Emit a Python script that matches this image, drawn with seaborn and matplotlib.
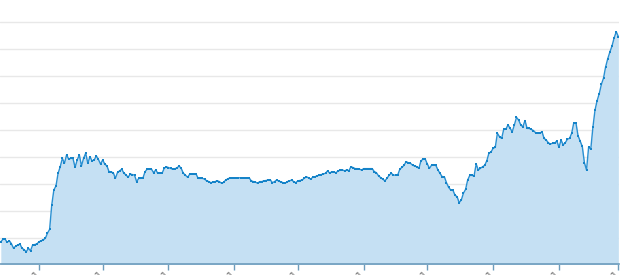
import matplotlib
matplotlib.use("Agg")
import matplotlib.pyplot as plt
import seaborn as sns
import pandas as pd
import numpy as np

start_date = "2020-05-14"
values = [
    0.87, 0.96, 0.97, 0.85, 0.91, 0.80, 0.63, 0.71, 0.75, 0.79,
    0.63, 0.58, 0.50, 0.63, 0.54, 0.75, 0.77, 0.79, 0.87, 0.91,
    0.94, 1.00, 1.19, 1.33, 2.23, 2.79, 2.94, 3.41, 3.65, 3.96,
    3.78, 4.09, 3.93, 3.96, 3.96, 3.63, 3.90, 4.09, 3.68, 3.96,
    4.15, 3.78, 4.02, 3.87, 3.90, 4.05, 3.92, 3.75, 3.90, 3.75,
    3.68, 3.47, 3.45, 3.43, 3.22, 3.44, 3.50, 3.56, 3.41, 3.35,
    3.26, 3.38, 3.36, 3.34, 3.10, 3.22, 3.22, 3.24, 3.47, 3.56,
    3.56, 3.56, 3.43, 3.53, 3.41, 3.41, 3.41, 3.59, 3.65, 3.62,
    3.59, 3.56, 3.58, 3.60, 3.68, 3.59, 3.41, 3.34, 3.26, 3.37,
    3.38, 3.38, 3.38, 3.22, 3.22, 3.22, 3.19, 3.13, 3.10, 3.06,
    3.08, 3.10, 3.13, 3.10, 3.04, 3.07, 3.16, 3.20, 3.24, 3.24,
    3.24, 3.24, 3.24, 3.24, 3.24, 3.24, 3.24, 3.24, 3.13, 3.10,
    3.08, 3.04, 3.10, 3.10, 3.13, 3.14, 3.16, 3.16, 3.06, 3.10,
    3.16, 3.12, 3.09, 3.06, 3.04, 3.10, 3.12, 3.16, 3.10, 3.06,
    3.13, 3.14, 3.16, 3.22, 3.28, 3.24, 3.19, 3.26, 3.28, 3.31,
    3.34, 3.36, 3.38, 3.41, 3.50, 3.41, 3.47, 3.45, 3.43, 3.50,
    3.52, 3.53, 3.50, 3.53, 3.50, 3.65, 3.62, 3.58, 3.58, 3.56,
    3.53, 3.58, 3.58, 3.58, 3.58, 3.58, 3.47, 3.43, 3.31, 3.25,
    3.19, 3.13, 3.22, 3.34, 3.41, 3.34, 3.34, 3.34, 3.55, 3.63,
    3.70, 3.84, 3.80, 3.78, 3.71, 3.68, 3.65, 3.59, 3.87, 3.93,
    3.93, 3.75, 3.59, 3.71, 3.71, 3.70, 3.53, 3.40, 3.28, 3.28,
    3.06, 2.89, 2.79, 2.79, 2.60, 2.54, 2.32, 2.42, 2.67, 2.81,
    3.16, 3.33, 3.33, 3.31, 3.75, 3.53, 3.59, 3.65, 3.70, 3.87,
    4.15, 4.20, 4.33, 4.37, 4.89, 4.76, 4.70, 5.04, 5.04, 5.20,
    5.07, 4.95, 5.20, 5.48, 5.38, 5.20, 5.13, 5.36, 5.07, 5.07,
    5.03, 4.99, 4.91, 4.90, 4.89, 4.95, 4.70, 4.64, 4.54, 4.49,
    4.52, 4.52, 4.61, 4.37, 4.64, 4.46, 4.54, 4.67, 4.70, 4.89,
    5.28, 5.28, 4.80, 4.60, 4.40, 3.80, 3.53, 4.39, 4.30, 5.11,
    5.75, 6.10, 6.36, 6.70, 6.93, 7.35, 7.65, 7.90, 8.12, 8.42,
    8.65, 8.47,
]
grid_values = [1, 2, 3, 4, 5, 6, 7, 8, 9]
tick_dates = ["2020-06-01", "2020-07-01", "2020-08-01", "2020-09-01", "2020-10-01",
              "2020-11-01", "2020-12-01", "2021-01-01", "2021-02-01", "2021-03-01"]

dates = pd.date_range(start_date, periods=len(values), freq="D")
df = pd.DataFrame({"date": dates, "value": values})

sns.set_style("white")
plt.rcParams["font.family"] = ["DejaVu Sans"]

fig = plt.figure(figsize=(6.32, 2.75), dpi=100)
W, H = 632, 275
ax_left, ax_right, ax_bottom, ax_top = 0, 619, 264, 0
ax = fig.add_axes([ax_left / W, (H - ax_bottom) / H, (ax_right - ax_left) / W, (ax_bottom - ax_top) / H])

line_color = "#2a90d2"
fill_color = "#c5e0f3"

ax.fill_between(df["date"], 0, df["value"], color=fill_color, linewidth=0, zorder=1)
sns.lineplot(data=df, x="date", y="value", ax=ax, color=line_color, linewidth=1.0,
             marker="s", markersize=2.0, markeredgewidth=0, markerfacecolor="#1583c8", zorder=3)

ref = pd.Timestamp("2020-06-01")
ax.set_xlim(ref - pd.Timedelta(days=18.38), ref + pd.Timedelta(days=273.3))
ax.set_ylim(0.048, 9.826)

ax.set_yticks(grid_values)
ax.yaxis.grid(True, color="#e8e8e8", linewidth=1.0, zorder=0)
ax.xaxis.grid(False)
ax.tick_params(axis="y", left=False, labelleft=False)

tick_ts = pd.to_datetime(tick_dates)
ax.set_xticks(tick_ts)
ax.set_xticklabels([t.strftime("%Y-%m-%d") for t in tick_ts], rotation=45,
                   ha="right", va="center", rotation_mode="anchor")
ax.tick_params(axis="x", bottom=True, direction="out", length=4, width=1, color="#6d9cbc",
               labelcolor="#777777", labelsize=8, pad=2)

for s in ["top", "right", "left"]:
    ax.spines[s].set_visible(False)
ax.spines["bottom"].set_color("#6d9cbc")
ax.spines["bottom"].set_linewidth(1.2)
ax.set_xlabel("")
ax.set_ylabel("")
ax.set_axisbelow(True)

fig.savefig("out.png", dpi=100)
